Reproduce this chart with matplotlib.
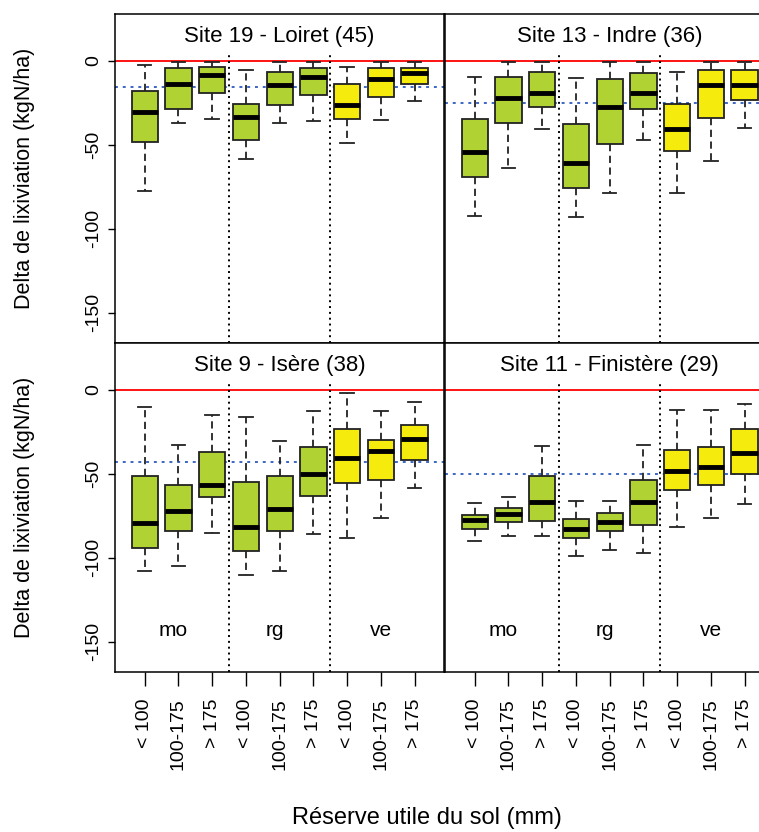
import numpy as np
import matplotlib
matplotlib.use("Agg")
import matplotlib.pyplot as plt

plt.rcParams['font.family'] = ['Liberation Sans', 'DejaVu Sans']

# box stats per site: 9 groups (mo / rg / ve  x  <100, 100-175, >175)
sites = ["Site 19 - Loiret (45)", "Site 13 - Indre (36)",
         "Site 9 - Isère (38)", "Site 11 - Finistère (29)"]
tick_labels = ["< 100", "100-175", "> 175"] * 3
groups = ["mo", "rg", "ve"]

whis_hi = [
    [-2.4, -0.8, -0.8, -5.6, -0.8, -0.8, -3.4, -0.8, -0.8],
    [-9.7, -0.8, -0.8, -10.3, -0.8, -0.8, -6.3, -0.8, -0.8],
    [-9.9, -32.7, -15.1, -15.9, -30.2, -12.7, -2.0, -12.7, -7.4],
    [-67.3, -63.7, -33.6, -66.3, -66.3, -32.7, -11.7, -11.7, -8.3],
]
q3 = [
    [-17.9, -4.4, -3.4, -25.4, -6.5, -4.4, -13.9, -4.4, -4.2],
    [-34.5, -9.5, -6.3, -37.7, -10.7, -7.1, -25.6, -5.4, -5.6],
    [-51.4, -56.5, -36.7, -54.6, -51.4, -33.7, -23.2, -29.6, -21.1],
    [-74.2, -70.1, -51.2, -76.6, -73.2, -53.6, -35.5, -33.7, -23.2],
]
med = [
    [-30.2, -13.7, -8.5, -33.5, -14.3, -9.3, -26.2, -10.5, -7.3],
    [-54.4, -22.0, -18.9, -60.7, -27.2, -18.9, -40.7, -14.5, -14.5],
    [-79.4, -72.2, -56.5, -81.4, -71.1, -50.0, -40.7, -36.3, -29.4],
    [-77.4, -74.0, -66.9, -82.6, -78.6, -66.9, -48.0, -46.1, -37.7],
]
q1 = [
    [-48.4, -28.4, -18.9, -47.0, -26.4, -20.0, -34.5, -21.2, -13.7],
    [-69.2, -36.9, -27.4, -75.4, -49.4, -28.4, -53.4, -33.7, -23.2],
    [-94.3, -83.9, -63.7, -96.2, -83.9, -62.9, -55.6, -53.6, -41.9],
    [-83.0, -78.8, -77.8, -88.1, -83.9, -80.6, -59.8, -56.5, -50.2],
]
whis_lo = [
    [-77.4, -36.7, -34.3, -58.5, -36.7, -35.5, -49.0, -35.3, -23.6],
    [-92.1, -63.7, -40.5, -93.1, -78.4, -47.0, -78.4, -59.7, -39.9],
    [-107.6, -104.8, -84.9, -110.1, -107.6, -85.7, -88.1, -76.4, -58.2],
    [-89.9, -86.7, -86.7, -98.6, -95.2, -97.3, -81.5, -76.4, -67.9],
]
# mean reference (blue dotted line) per site
site_mean = [-15.7, -25.2, -43.1, -50.2]

green = "#B0D232"
yellow = "#F5EB0C"
colors = [green] * 6 + [yellow] * 3

W, H = 759, 832
fig = plt.figure(figsize=(W / 100, H / 100), dpi=100)

# panel pixel frames (left, top); right panels run past the image edge
frames = [(115, 14), (445, 14), (115, 343), (445, 343)]
pw, ph = 329, 329

for k in range(4):
    x0, y0 = frames[k]
    ax = fig.add_axes([x0 / W, 1 - (y0 + ph) / H, pw / W, ph / H])
    stats = []
    for i in range(9):
        stats.append(dict(med=med[k][i], q1=q1[k][i], q3=q3[k][i],
                          whislo=whis_lo[k][i], whishi=whis_hi[k][i], fliers=[]))
    bp = ax.bxp(stats, positions=np.arange(1, 10), widths=0.78,
                patch_artist=True, showfliers=False,
                boxprops=dict(edgecolor="#222222", linewidth=1.3),
                medianprops=dict(color="black", linewidth=3.5, solid_capstyle="butt"),
                whiskerprops=dict(color="#222222", linewidth=1.3, linestyle=(0, (4, 2.5))),
                capprops=dict(color="#222222", linewidth=1.3), capwidths=0.4)
    for patch, c in zip(bp["boxes"], colors):
        patch.set_facecolor(c)

    ax.axhline(0, color="red", lw=1.3, zorder=1)
    ax.axhline(site_mean[k], color="#3A66C4", lw=1.4, ls=(0, (1.5, 2.5)), zorder=1)
    ax.vlines([3.5, 6.5], -168, 5, color="black", lw=1.4, ls=(0, (1, 2)), zorder=1)

    ax.set_xlim(0.12, 9.87)
    ax.set_ylim(-168, 28)
    ax.text(5, 14.5, sites[k], ha="center", va="center", fontsize=16)

    for sp in ax.spines.values():
        sp.set_linewidth(1.1)

    if k >= 2:
        for j, g in enumerate(groups):
            ax.text([1.85, 4.85, 8.0][j], -143.5, g, ha="center", va="center", fontsize=15)
        ax.set_xticks(np.arange(1, 10))
        ax.set_xticklabels(tick_labels, rotation=90, fontsize=14, va="top")
        ax.tick_params(axis="x", length=10, width=1.0, pad=9)
    else:
        ax.set_xticks([])

    if k % 2 == 0:
        ax.set_yticks([0, -50, -100, -150])
        ax.set_yticklabels(["0", "-50", "-100", "-150"], rotation=90,
                           va="center", fontsize=14)
        ax.tick_params(axis="y", length=5, width=1.0, pad=4)
    else:
        ax.set_yticks([])

for yc in [(14 + 343) / 2, (343 + 672) / 2]:
    fig.text(25 / W, 1 - yc / H, "Delta de lixiviation (kgN/ha)", rotation=90,
             ha="center", va="center", fontsize=15.5)

fig.text(427 / W, 1 - 818 / H, "Réserve utile du sol (mm)", ha="center",
         va="center", fontsize=17)

fig.savefig("out.png", dpi=100)
